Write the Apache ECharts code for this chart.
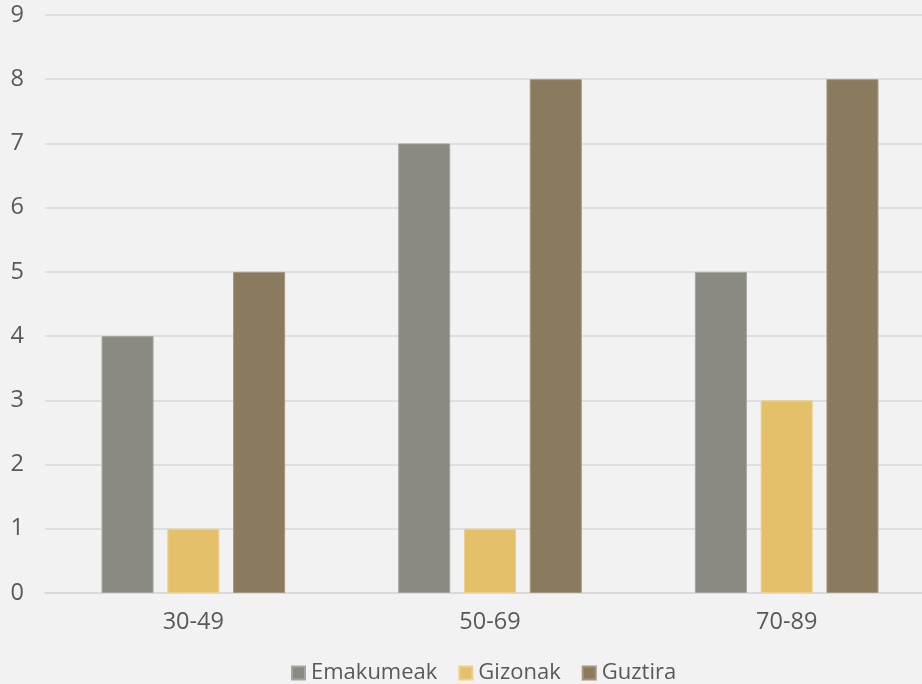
<!DOCTYPE html>
<html><head><meta charset="utf-8">
<script src="https://cdn.jsdelivr.net/npm/echarts@6/dist/echarts.min.js"></script>
<style>html,body{margin:0;padding:0;background:#f2f2f2;overflow:hidden;}#c{width:935px;height:684px;}</style>
</head><body><div id="c"></div>
<script>
const categories = ['30-49', '50-69', '70-89'];
const emakumeak = [4, 7, 5];
const gizonak = [1, 1, 3];
const guztira = [5, 8, 8];
const yTicks = [0, 9, 1];

const chart = echarts.init(document.getElementById('c'));
const font = "'Open Sans', sans-serif";
chart.setOption({
  backgroundColor: '#f2f2f2',
  animation: false,
  grid: { left: 45, right: 0, top: 15, bottom: 91 },
  legend: {
    left: 286, top: 657, itemWidth: 13, itemHeight: 13, itemGap: 21, icon: 'rect',
    textStyle: { color: '#595959', fontSize: 22, fontFamily: font, padding: [0, 0, 0, 1] },
    data: ['Emakumeak', 'Gizonak', 'Guztira']
  },
  xAxis: {
    type: 'category', data: categories,
    axisLine: { lineStyle: { color: '#d9d9d9', width: 1.5 } },
    axisTick: { show: false },
    axisLabel: { color: '#595959', fontSize: 23.5, fontFamily: font, margin: 17 }
  },
  yAxis: {
    type: 'value', min: yTicks[0], max: yTicks[1], interval: yTicks[2],
    axisLine: { show: false }, axisTick: { show: false },
    splitLine: { lineStyle: { color: '#d9d9d9', width: 1.5 } },
    axisLabel: { color: '#595959', fontSize: 23.5, fontFamily: font, margin: 21 }
  },
  series: [
    { name: 'Emakumeak', type: 'bar', data: emakumeak, barWidth: 52, barGap: '26.5%',
      itemStyle: { color: '#8a8a83', borderColor: '#a5a59f', borderWidth: 1 } },
    { name: 'Gizonak', type: 'bar', data: gizonak, barWidth: 52, barGap: '26.5%',
      itemStyle: { color: '#e5c06a', borderColor: '#ecd08e', borderWidth: 1 } },
    { name: 'Guztira', type: 'bar', data: guztira, barWidth: 52, barGap: '26.5%',
      itemStyle: { color: '#8a7a5e', borderColor: '#a3967f', borderWidth: 1 } }
  ]
});
</script></body></html>
